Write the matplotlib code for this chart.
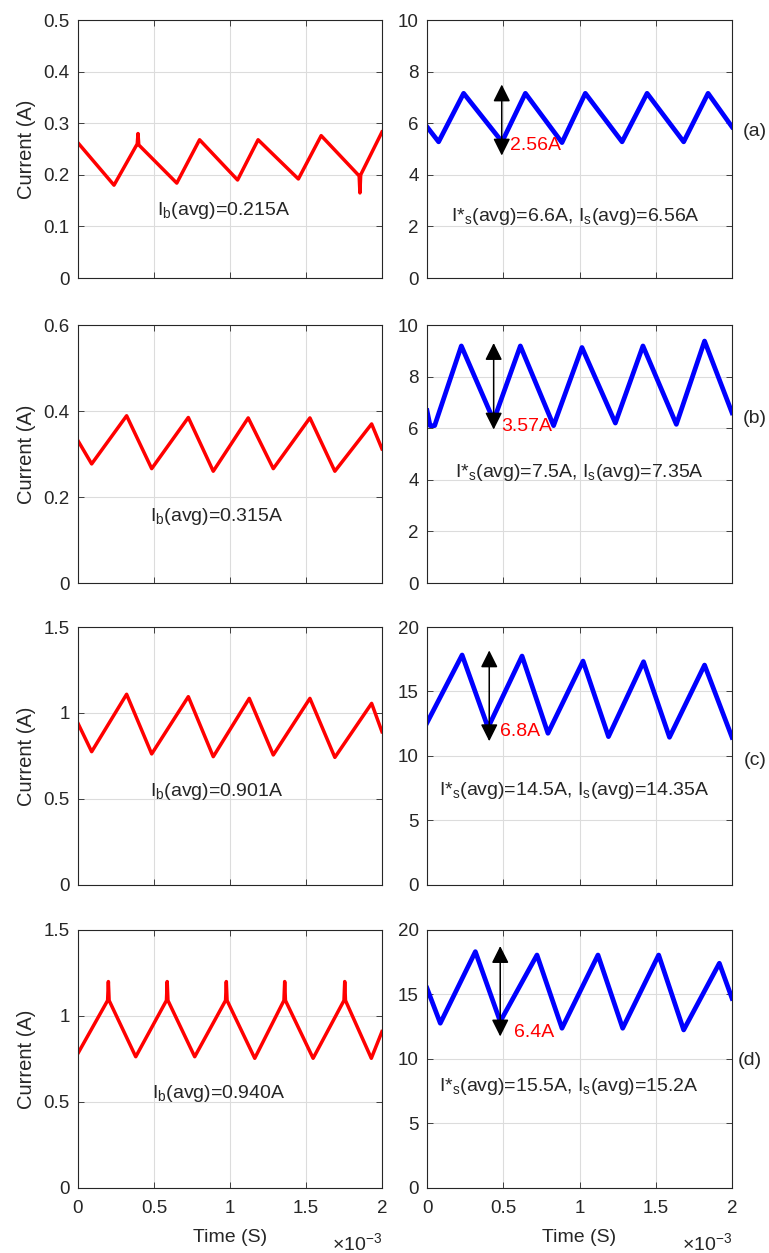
import numpy as np
import matplotlib
matplotlib.use('Agg')
import matplotlib.pyplot as plt
from matplotlib.ticker import FuncFormatter

plt.rcParams['font.family'] = ['Liberation Sans', 'DejaVu Sans']
plt.rcParams['mathtext.fontset'] = 'custom'
plt.rcParams['mathtext.rm'] = 'Liberation Sans'
plt.rcParams['mathtext.it'] = 'Liberation Sans:italic'
plt.rcParams['mathtext.bf'] = 'Liberation Sans:bold'

TXT = '#262626'

# battery current, time in ms
ib_a_t = [0, 0.237, 0.39, 0.395, 0.40, 0.65, 0.8, 1.05, 1.185, 1.45, 1.6, 1.85, 1.855, 1.86, 2.0]
ib_a_i = [0.262, 0.18, 0.26, 0.28, 0.258, 0.184, 0.268, 0.19, 0.268, 0.192, 0.276, 0.198, 0.165, 0.2, 0.283]
ib_b_t = [0, 0.09, 0.32, 0.485, 0.726, 0.89, 1.12, 1.285, 1.526, 1.69, 1.932, 2.0]
ib_b_i = [0.331, 0.277, 0.389, 0.266, 0.385, 0.26, 0.384, 0.266, 0.384, 0.26, 0.37, 0.312]
ib_c_t = [0, 0.09, 0.32, 0.485, 0.726, 0.89, 1.127, 1.285, 1.526, 1.69, 1.932, 2.0]
ib_c_i = [0.94, 0.775, 1.109, 0.762, 1.095, 0.746, 1.085, 0.756, 1.085, 0.742, 1.056, 0.891]
ib_d_t = [0, 0.195, 0.2, 0.205, 0.38, 0.582, 0.587, 0.592, 0.768, 0.971, 0.976, 0.981,
          1.163, 1.355, 1.36, 1.365, 1.547, 1.75, 1.755, 1.76, 1.93, 2.0]
ib_d_i = [0.783, 1.09, 1.2, 1.09, 0.763, 1.09, 1.2, 1.09, 0.763, 1.09, 1.2, 1.09,
          0.754, 1.09, 1.2, 1.09, 0.754, 1.09, 1.2, 1.09, 0.754, 0.909]

# source current, time in ms
is_a_t = [0, 0.076, 0.24, 0.492, 0.645, 0.885, 1.038, 1.279, 1.443, 1.683, 1.843, 2.0]
is_a_i = [5.86, 5.28, 7.16, 5.28, 7.16, 5.25, 7.16, 5.28, 7.16, 5.28, 7.16, 5.86]
is_b_t = [0, 0.02, 0.05, 0.225, 0.437, 0.612, 0.83, 1.016, 1.235, 1.416, 1.635, 1.82, 2.0]
is_b_i = [6.68, 6.1, 6.1, 9.19, 6.3, 9.19, 6.1, 9.13, 6.2, 9.19, 6.15, 9.38, 6.6]
is_c_t = [0, 0.23, 0.4, 0.623, 0.793, 1.023, 1.19, 1.42, 1.59, 1.82, 2.0]
is_c_i = [12.58, 17.83, 12.2, 17.75, 11.76, 17.36, 11.5, 17.31, 11.45, 17.05, 11.45]
is_d_t = [0, 0.087, 0.317, 0.48, 0.721, 0.885, 1.121, 1.283, 1.519, 1.683, 1.917, 2.0]
is_d_i = [15.48, 12.77, 18.32, 12.9, 18.06, 12.38, 18.06, 12.38, 18.06, 12.25, 17.42, 14.7]

ib_avg = ['0.215', '0.315', '0.901', '0.940']
is_ref_avg = ['6.6', '7.5', '14.5', '15.5']
is_avg = ['6.56', '7.35', '14.35', '15.2']
ripple = ['2.56A', '3.57A', '6.8A', '6.4A']
case_labels = ['(a)', '(b)', '(c)', '(d)']

left_ylim = [0.5, 0.6, 1.5, 1.5]
left_ystep = [0.1, 0.2, 0.5, 0.5]
right_ylim = [10, 10, 20, 20]
right_ystep = [2, 2, 5, 5]

# ripple arrows: time (ms), top, bottom; label position
arrow_t = [0.49, 0.437, 0.408, 0.48]
arrow_top = [7.61, 9.41, 18.4, 18.97]
arrow_bot = [4.64, 5.84, 10.93, 11.53]
rip_x = [0.546, 0.487, 0.48, 0.568]
rip_y = [5.13, 6.06, 11.9, 12.04]

# text positions (ms, value)
ib_txt = [(0.96, 0.13), (0.91, 0.154), (0.91, 0.542), (0.925, 0.55)]
is_txt = [(0.974, 2.38), (1.0, 4.3), (0.967, 7.36), (0.929, 7.85)]
case_pos = [(1.075, 0.567), (1.075, 0.636), (1.075, 0.484), (1.06, 0.496)]

left_data = [(ib_a_t, ib_a_i), (ib_b_t, ib_b_i), (ib_c_t, ib_c_i), (ib_d_t, ib_d_i)]
right_data = [(is_a_t, is_a_i), (is_b_t, is_b_i), (is_c_t, is_c_i), (is_d_t, is_d_i)]

fig = plt.figure(figsize=(7.69, 12.53), dpi=100)
bottoms = [0.7781, 0.5347, 0.2937, 0.0519]
h = 0.2059


def style(ax, ymax, ystep, last):
    ax.set_xlim(0, 0.002)
    ax.set_ylim(0, ymax)
    ax.set_xticks(np.arange(0, 0.00201, 0.0005))
    ax.set_yticks(np.arange(0, ymax + ystep / 2, ystep))
    ax.yaxis.set_major_formatter(FuncFormatter(lambda v, p: f'{v:g}'))
    ax.xaxis.set_major_formatter(FuncFormatter(lambda v, p: f'{v * 1e3:g}'))
    ax.grid(True, color='#dcdcdc', lw=0.8)
    ax.set_axisbelow(True)
    ax.tick_params(direction='in', top=True, right=True, length=4, width=0.6,
                   labelsize=13.5, colors=TXT)
    ax.tick_params(axis='y', pad=6)
    ax.tick_params(axis='x', pad=9)
    for s in ax.spines.values():
        s.set_color(TXT)
        s.set_linewidth(0.8)
    if last:
        ax.set_xlabel('Time (S)', fontsize=14, color=TXT, labelpad=8)
        ax.text(1.0, -0.215, r'$\times$10$^{-3}$', transform=ax.transAxes,
                ha='right', va='center', fontsize=14, color=TXT)
    else:
        ax.tick_params(labelbottom=False)


for r in range(4):
    last = r == 3
    axl = fig.add_axes([0.1014, bottoms[r], 0.3953, h])
    t, i = left_data[r]
    axl.plot(np.array(t) * 1e-3, i, color='red', lw=2.5)
    style(axl, left_ylim[r], left_ystep[r], last)
    axl.set_ylabel('Current (A)', fontsize=14.5, color=TXT, labelpad=5)
    axl.text(ib_txt[r][0] * 1e-3, ib_txt[r][1], r'I$_\mathrm{b}$(avg)=' + ib_avg[r] + 'A',
             ha='center', va='center', fontsize=14, color=TXT)

    axr = fig.add_axes([0.5553, bottoms[r], 0.3966, h])
    t, i = right_data[r]
    axr.plot(np.array(t) * 1e-3, i, color='blue', lw=3.4)
    style(axr, right_ylim[r], right_ystep[r], last)
    axr.annotate('', xy=(arrow_t[r] * 1e-3, arrow_top[r]), xytext=(arrow_t[r] * 1e-3, arrow_bot[r]),
                 arrowprops=dict(arrowstyle='<|-|>', color='black', lw=1.1, mutation_scale=26))
    axr.text(rip_x[r] * 1e-3, rip_y[r], ripple[r], color='red', fontsize=14,
             ha='left', va='center')
    axr.text(is_txt[r][0] * 1e-3, is_txt[r][1],
             r'I*$_\mathrm{s}$(avg)=' + is_ref_avg[r] + r'A, I$_\mathrm{s}$(avg)=' + is_avg[r] + 'A',
             ha='center', va='center', fontsize=14, color=TXT)
    axr.text(case_pos[r][0], case_pos[r][1], case_labels[r], transform=axr.transAxes,
             ha='center', va='center', fontsize=14, color=TXT)

fig.savefig('out.png', dpi=100)
